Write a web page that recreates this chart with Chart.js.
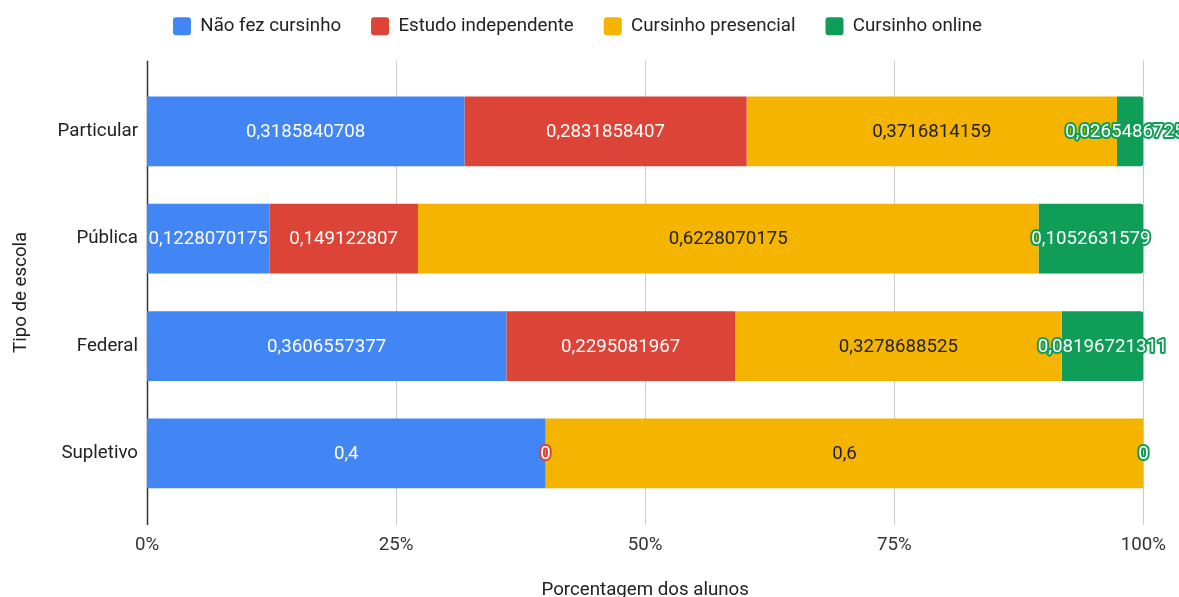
<!DOCTYPE html>
<html>
<head>
<meta charset="utf-8">
<script src="https://cdn.jsdelivr.net/npm/chart.js@4.4.0/dist/chart.umd.min.js"></script>
<style>
  html, body { margin: 0; padding: 0; background: #fff; }
  #wrap { width: 1179px; height: 597px; position: relative; }
</style>
</head>
<body>
<div id="wrap"><canvas id="chart"></canvas></div>
<script>
// categories and series
const schools = ["Particular", "Pública", "Federal", "Supletivo"];
const naoFez = [0.3185840708, 0.1228070175, 0.3606557377, 0.4];
const estudoIndep = [0.2831858407, 0.149122807, 0.2295081967, 0];
const presencial = [0.3716814159, 0.6228070175, 0.3278688525, 0.6];
const online = [0.02654867257, 0.1052631579, 0.08196721311, 0];
const seriesNames = ["Não fez cursinho", "Estudo independente", "Cursinho presencial", "Cursinho online"];
const xTicks = [0, 0.25, 0.5, 0.75, 1];

const colors = ["#4285f4", "#db4437", "#f4b400", "#0f9d58"];
const labelColors = ["#ffffff", "#ffffff", "#222222", "#ffffff"];
const FONT = "Roboto";
const FS = 18.7;

// vertical grid lines run a bit past the bars, like the original
const gridPlugin = {
  id: "gridExt",
  beforeDatasetsDraw(chart) {
    const ctx = chart.ctx;
    const xs = chart.scales.x;
    const top = chart.chartArea.top - 17;
    const bottom = chart.chartArea.bottom + 18;
    ctx.save();
    xTicks.forEach((t) => {
      const px = Math.round(xs.getPixelForValue(t)) + 0.5;
      ctx.beginPath();
      ctx.strokeStyle = t === 0 ? "#333333" : "#cccccc";
      ctx.lineWidth = t === 0 ? 1.5 : 1;
      ctx.moveTo(px, top);
      ctx.lineTo(px, bottom);
      ctx.stroke();
    });
    ctx.restore();
  },
};

// value labels centred on each segment
const labelPlugin = {
  id: "segLabels",
  afterDatasetsDraw(chart) {
    const ctx = chart.ctx;
    ctx.save();
    ctx.font = FS + "px " + FONT;
    ctx.textAlign = "center";
    ctx.textBaseline = "middle";
    chart.data.datasets.forEach((ds, di) => {
      const meta = chart.getDatasetMeta(di);
      meta.data.forEach((el, i) => {
        const v = ds.data[i];
        const text = String(v).replace(".", ",");
        const cx = (el.x + el.base) / 2;
        const w = Math.abs(el.x - el.base);
        const tw = ctx.measureText(text).width;
        if (tw + 2 > w) {
          ctx.lineJoin = "round";
          ctx.lineWidth = 4;
          ctx.strokeStyle = colors[di];
          ctx.strokeText(text, cx, el.y + 1);
          ctx.fillStyle = "#ffffff";
        } else {
          ctx.fillStyle = labelColors[di];
        }
        ctx.fillText(text, cx, el.y + 1);
      });
    });
    ctx.restore();
  },
};

const seriesData = [naoFez, estudoIndep, presencial, online];

new Chart(document.getElementById("chart"), {
  type: "bar",
  data: {
    labels: schools,
    datasets: seriesData.map((d, i) => ({
      label: seriesNames[i],
      data: d,
      backgroundColor: colors[i],
      borderWidth: 0,
      borderRadius: i === 3 ? { topRight: 3, bottomRight: 3 } : 0,
      borderSkipped: false,
      barPercentage: 0.65,
      categoryPercentage: 1,
    })),
  },
  options: {
    indexAxis: "y",
    responsive: true,
    maintainAspectRatio: false,
    animation: false,
    layout: { padding: { left: 0, right: 24, top: -13, bottom: 0 } },
    plugins: {
      legend: {
        display: true,
        position: "top",
        labels: {
          boxWidth: 18,
          boxHeight: 18,
          padding: 30,
          useBorderRadius: true,
          borderRadius: 3,
          color: "#222222",
          font: { family: FONT, size: FS },
        },
      },
      tooltip: { enabled: false },
    },
    scales: {
      x: {
        stacked: true,
        min: 0,
        max: 1,
        afterBuildTicks: (axis) => {
          axis.ticks = xTicks.map((v) => ({ value: v }));
        },
        afterFit: (axis) => {
          axis.height = 90;
        },
        grid: { display: false, drawTicks: true, tickLength: 14 },
        border: { display: false },
        ticks: {
          padding: 13,
          color: "#333333",
          font: { family: FONT, size: FS },
          callback: (v) => Math.round(v * 100) + "%",
        },
        title: {
          display: true,
          text: "Porcentagem dos alunos",
          color: "#222222",
          font: { family: FONT, size: FS },
          padding: { top: 0, bottom: -5 },
        },
      },
      // empty spacer between the legend and the bars
      xTop: {
        type: "linear",
        position: "top",
        display: true,
        afterFit: (axis) => {
          axis.height = 32;
        },
        grid: { display: false, drawTicks: false },
        border: { display: false },
        ticks: { display: false },
      },
      y: {
        stacked: true,
        afterFit: (axis) => {
          axis.width = 147;
        },
        grid: { display: false, drawTicks: false },
        border: { display: false },
        ticks: {
          padding: 9,
          color: "#222222",
          font: { family: FONT, size: FS },
        },
        title: {
          display: true,
          text: "Tipo de escola",
          color: "#222222",
          font: { family: FONT, size: FS },
          padding: { top: 10, bottom: 0 },
        },
      },
    },
  },
  plugins: [gridPlugin, labelPlugin],
});
</script>
</body>
</html>
